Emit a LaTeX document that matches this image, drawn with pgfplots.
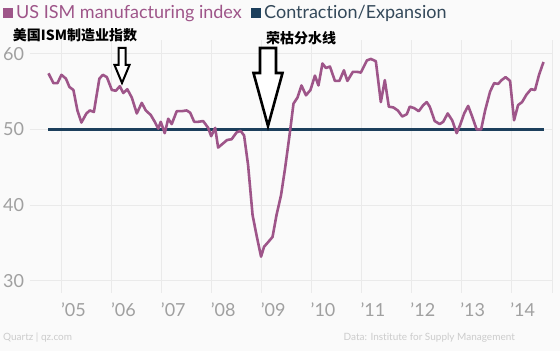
\documentclass[border=0pt]{standalone}
\usepackage{pgfplots}
\pgfplotsset{compat=1.18}
\usepackage{fontspec}
\setmainfont{Lato}[Ligatures=NoCommon]
\newfontfamily\cjk{Noto Sans CJK SC}
\definecolor{ism}{HTML}{9E5589}
\definecolor{navy}{HTML}{1C3F5C}
\definecolor{gridc}{HTML}{EAEAEA}
\definecolor{tickc}{HTML}{A0A0A0}
\definecolor{bg}{HTML}{FAFAFA}
\definecolor{foot}{HTML}{CCCCCC}
\definecolor{ctext}{HTML}{34495A}
\begin{document}
\begin{tikzpicture}[x=1pt,y=1pt]
\fill[bg] (-30,-58) rectangle (530,293);
\begin{axis}[at={(0,0)},anchor=south west,scale only axis,
  width=522pt,height=253pt,
  xmin=2004.36,xmax=2014.82,ymin=28.4,ymax=61.8,
  axis line style={draw=none},tick style={draw=none},
  xtick={2005,2006,2007,2008,2009,2010,2011,2012,2013,2014},
  xticklabels={’05,’06,’07,’08,’09,’10,’11,’12,’13,’14},
  extra x ticks={2014.82},extra x tick labels={},
  ytick={30,40,50,60},yticklabels={30,40,50,60},
  grid=major,grid style={gridc,line width=1pt},
  xticklabel style={tickc,font=\fontsize{18}{18}\selectfont,anchor=north west,inner sep=0pt,xshift=-1pt,yshift=-10pt},
  yticklabel style={tickc,font=\fontsize{18}{18}\selectfont,anchor=west,inner sep=0pt,xshift=-27pt},
  clip=false]
\addplot[navy,line width=3pt] coordinates {(2004.73,50) (2014.65,50)};
\addplot[ism,line width=2.6pt,line join=round] coordinates {
(2004.73,57.4) (2004.83,56.1) (2004.91,56.1) (2004.99,57.2) (2005.08,56.7)
(2005.15,55.6) (2005.23,55.2) (2005.31,52.5) (2005.39,50.9) (2005.49,52.1)
(2005.56,52.5) (2005.64,52.3) (2005.75,56.7) (2005.82,57.2) (2005.90,56.9)
(2006.00,55.2) (2006.08,55.1) (2006.16,55.7) (2006.23,54.8) (2006.31,55.3)
(2006.40,54.2) (2006.50,52.1) (2006.60,53.5) (2006.68,52.5) (2006.78,51.9)
(2006.86,51.0) (2006.93,50.1) (2006.98,51.0) (2007.06,49.5) (2007.13,51.4)
(2007.20,50.7) (2007.30,52.4) (2007.40,52.4) (2007.50,52.5) (2007.57,52.2)
(2007.65,51.0) (2007.73,51.0) (2007.83,51.1) (2007.93,50.2) (2007.99,49.1)
(2008.07,50.2) (2008.13,47.6) (2008.22,48.1) (2008.31,48.6) (2008.40,48.7)
(2008.50,49.6) (2008.58,49.8) (2008.65,49.2) (2008.73,45.3) (2008.82,38.7)
(2008.90,36.0) (2008.99,33.2) (2009.05,34.5) (2009.13,35.1) (2009.22,35.8)
(2009.30,38.7) (2009.39,41.3) (2009.47,44.8) (2009.56,49.2) (2009.64,53.4)
(2009.72,54.2) (2009.80,55.8) (2009.89,54.5) (2009.98,55.2) (2010.07,57.1)
(2010.14,55.8) (2010.22,58.7) (2010.29,58.1) (2010.37,58.3) (2010.47,56.4)
(2010.56,56.4) (2010.65,57.8) (2010.72,56.4) (2010.83,57.6) (2010.91,57.6)
(2010.99,57.5) (2011.11,59.1) (2011.19,59.3) (2011.29,59.0) (2011.39,53.6)
(2011.47,56.5) (2011.55,53.0) (2011.64,52.9) (2011.73,52.5) (2011.82,51.7)
(2011.91,52.0) (2011.97,53.0) (2012.06,52.8) (2012.15,52.4) (2012.24,53.2)
(2012.31,53.6) (2012.37,53.0) (2012.47,51.1) (2012.57,50.7) (2012.64,51.0)
(2012.73,52.1) (2012.82,51.2) (2012.91,49.5) (2012.98,50.6) (2013.06,52.1)
(2013.14,53.1) (2013.22,51.7) (2013.31,50.0) (2013.40,50.0) (2013.48,52.5)
(2013.58,55.0) (2013.66,56.1) (2013.74,56.0) (2013.81,56.5) (2013.89,56.9)
(2013.98,56.4) (2014.06,51.2) (2014.14,53.2) (2014.22,53.6) (2014.31,54.6)
(2014.40,55.3) (2014.48,55.2) (2014.56,57.2) (2014.65,58.9)};
\end{axis}
% legend
\fill[ism] (-27,275) rectangle (-17,285);
\node[anchor=base west,inner sep=0pt,text=ism,font=\fontsize{18}{18}\selectfont] at (-14,274) {US ISM manufacturing index};
\fill[navy] (221,275) rectangle (231,285);
\node[anchor=base west,inner sep=0pt,text=ctext,font=\fontsize{18}{18}\selectfont] at (234,274) {Contrac\kern0pt tion/Expansion};
% annotations
\node[inner sep=0pt,font=\cjk\bfseries\fontsize{14}{14}\selectfont] at (45,258) {美国ISM制造业指数};
\node[inner sep=0pt,font=\cjk\bfseries\fontsize{14}{14}\selectfont] at (271,255) {荣枯分水线};
\draw[black,line width=2pt,fill=white,line join=miter]
  (88.5,245) -- (95.5,245) -- (95.5,228) -- (99.5,228) -- (92,210) -- (84.5,228) -- (88.5,228) -- cycle;
\draw[black,line width=2.6pt,fill=white,line join=miter]
  (230,245) -- (246,245) -- (246,220) -- (252.5,220) -- (238,167) -- (223.5,220) -- (230,220) -- cycle;
% footer
\node[anchor=west,inner sep=0pt,text=foot,font=\fontsize{10}{10}\selectfont] at (-27,-45) {Quartz | qz.com};
\node[anchor=east,inner sep=0pt,text=foot,font=\fontsize{10}{10}\selectfont] at (485,-45) {Data: Institute for Supply Management};
\end{tikzpicture}
\end{document}
